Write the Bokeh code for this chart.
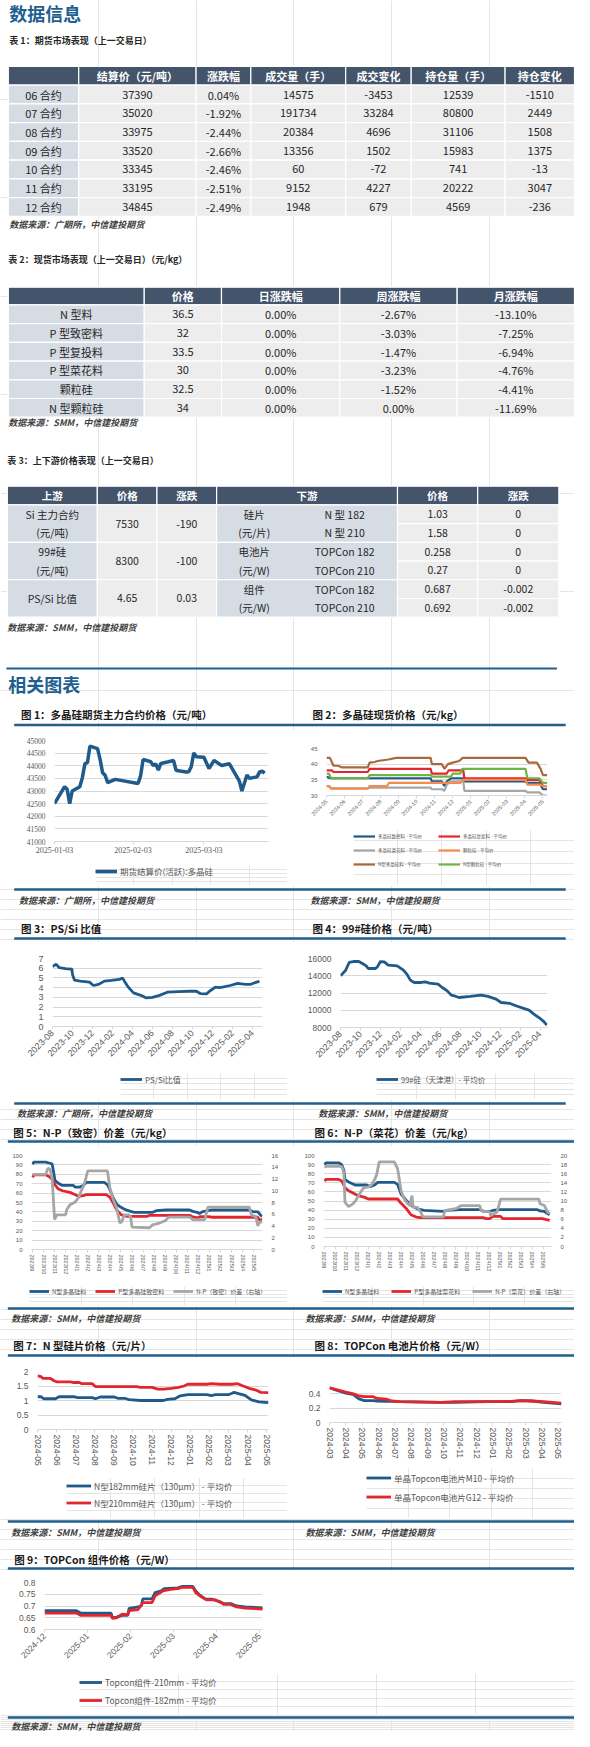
import math
import calendar
from datetime import date

from bokeh.plotting import figure
from bokeh.layouts import column, row
from bokeh.models import (Range1d, LinearAxis, FixedTicker, SingleIntervalTicker,
                          NumeralTickFormatter, Legend, LegendItem)
from bokeh.core.properties import value
from bokeh.embed import file_html
from bokeh.resources import INLINE

# ---------------- data: tables ----------------
T1_HEAD = ["", "结算价（元/吨）", "涨跌幅", "成交量（手）", "成交变化", "持仓量（手）", "持仓变化"]
T1_CONTRACT = ["06 合约", "07 合约", "08 合约", "09 合约", "10 合约", "11 合约", "12 合约"]
T1_SETTLE = [37390, 35020, 33975, 33520, 33345, 33195, 34845]
T1_PCT = ["0.04%", "-1.92%", "-2.44%", "-2.66%", "-2.46%", "-2.51%", "-2.49%"]
T1_VOL = [14575, 191734, 20384, 13356, 60, 9152, 1948]
T1_VOL_CHG = [-3453, 33284, 4696, 1502, -72, 4227, 679]
T1_OI = [12539, 80800, 31106, 15983, 741, 20222, 4569]
T1_OI_CHG = [-1510, 2449, 1508, 1375, -13, 3047, -236]

T2_HEAD = ["", "价格", "日涨跌幅", "周涨跌幅", "月涨跌幅"]
T2_ITEM = ["N 型料", "P 型致密料", "P 型复投料", "P 型菜花料", "颗粒硅", "N 型颗粒硅"]
T2_PRICE = ["36.5", "32", "33.5", "30", "32.5", "34"]
T2_DAY = ["0.00%", "0.00%", "0.00%", "0.00%", "0.00%", "0.00%"]
T2_WEEK = ["-2.67%", "-3.03%", "-1.47%", "-3.23%", "-1.52%", "0.00%"]
T2_MONTH = ["-13.10%", "-7.25%", "-6.94%", "-4.76%", "-4.41%", "-11.69%"]

T3_HEAD = ["上游", "价格", "涨跌", "下游", "价格", "涨跌"]
T3_UP_NAME = ["Si 主力合约", "99#硅", "PS/Si 比值"]
T3_UP_UNIT = ["(元/吨)", "(元/吨)", ""]
T3_UP_PRICE = ["7530", "8300", "4.65"]
T3_UP_CHG = ["-190", "-100", "0.03"]
T3_DOWN_CAT = ["硅片", "电池片", "组件"]
T3_DOWN_UNIT = ["(元/片)", "(元/W)", "(元/W)"]
T3_DOWN_SPEC = ["N 型 182", "N 型 210", "TOPCon 182", "TOPCon 210", "TOPCon 182", "TOPCon 210"]
T3_DOWN_PRICE = ["1.03", "1.58", "0.258", "0.27", "0.687", "0.692"]
T3_DOWN_CHG = ["0", "0", "0", "0", "-0.002", "-0.002"]

# ---------------- data: chart 1 ----------------
C1_XTICK = ["2025-01-03", "2025-02-03", "2025-03-03"]
C1_DATE = ["2025-01-03", "2025-01-07", "2025-01-08", "2025-01-09", "2025-01-10", "2025-01-13",
           "2025-01-14", "2025-01-15", "2025-01-16", "2025-01-17", "2025-01-20", "2025-01-21",
           "2025-01-22", "2025-01-23", "2025-01-24", "2025-01-27", "2025-02-05", "2025-02-06",
           "2025-02-07", "2025-02-10", "2025-02-11", "2025-02-12", "2025-02-13", "2025-02-14",
           "2025-02-17", "2025-02-19", "2025-02-20", "2025-02-21", "2025-02-24", "2025-02-25",
           "2025-02-26", "2025-02-27", "2025-02-28", "2025-03-03", "2025-03-05", "2025-03-07",
           "2025-03-10", "2025-03-13", "2025-03-17", "2025-03-18", "2025-03-20", "2025-03-21",
           "2025-03-24", "2025-03-25", "2025-03-26", "2025-03-27"]
C1_VALUE = [42500, 43170, 43070, 42500, 43000, 43170, 43530, 44080, 44120, 44780, 44680, 44250,
            43720, 43620, 43330, 43460, 43300, 43600, 44250, 44160, 44010, 44070, 43830, 44090,
            44160, 44210, 43820, 43800, 43750, 43760, 43960, 44510, 44360, 44340, 43890, 44210,
            44010, 44080, 43390, 43000, 43630, 43500, 43560, 43760, 43790, 43710]

# ---------------- data: chart 2 ----------------
C2_XLABEL = ["2024-05", "2024-06", "2024-07", "2024-08", "2024-09", "2024-10", "2024-11",
             "2024-12", "2025-01", "2025-02", "2025-03", "2025-04", "2025-05"]
C2_DENSE_D = ["2024-05-01", "2024-05-05", "2024-05-09", "2024-10-25", "2024-10-27", "2024-11-13",
              "2024-11-17", "2024-11-21", "2024-11-28", "2024-12-19", "2024-12-21", "2025-04-02",
              "2025-04-05", "2025-04-25", "2025-05-01", "2025-05-08"]
C2_DENSE_V = [36, 35.7, 35.5, 35.5, 34.5, 34.5, 33, 34.5, 35.5, 35.5, 34.5, 34.5, 34, 34, 32, 32]
C2_RECHG_D = ["2024-05-01", "2024-05-10", "2024-05-13", "2024-07-10", "2024-07-13", "2024-10-25",
              "2024-10-27", "2024-11-21", "2024-11-24", "2024-12-19", "2024-12-21", "2025-04-02",
              "2025-04-05", "2025-04-25", "2025-05-01", "2025-05-08"]
C2_RECHG_V = [38, 38, 37.5, 37.5, 38.5, 38.5, 37, 37, 38, 38, 35.5, 35.5, 35, 35, 33, 33]
C2_CAULI_D = ["2024-05-01", "2024-05-05", "2024-05-09", "2024-07-10", "2024-07-13", "2024-10-25",
              "2024-10-27", "2024-11-13", "2024-11-17", "2024-11-21", "2024-11-28", "2024-12-19",
              "2024-12-21", "2025-04-02", "2025-04-05", "2025-04-25", "2025-05-01", "2025-05-08"]
C2_CAULI_V = [33, 33, 32.3, 32.3, 32.5, 32.5, 32, 32, 31.5, 33.5, 34.5, 34.5, 31.5, 31.5, 31, 31, 30, 30]
C2_GRAN_D = ["2024-05-01", "2024-05-05", "2024-05-09", "2024-07-10", "2024-07-13", "2024-08-12",
             "2024-08-15", "2024-12-14", "2024-12-17", "2025-04-02", "2025-04-05", "2025-04-25",
             "2025-05-01", "2025-05-08"]
C2_GRAN_V = [33, 33, 32.2, 32.2, 33, 33, 34, 34, 35, 35, 33.5, 33.5, 33, 33]
C2_NTYPE_D = ["2024-05-01", "2024-05-07", "2024-05-13", "2024-05-21", "2024-05-27", "2024-07-10",
              "2024-07-13", "2024-07-22", "2024-07-27", "2024-08-14", "2024-08-28", "2024-10-25",
              "2024-10-27", "2024-11-13", "2024-11-17", "2024-11-23", "2024-12-01", "2024-12-12",
              "2024-12-18", "2025-04-02", "2025-04-07", "2025-04-21", "2025-04-27", "2025-05-01",
              "2025-05-08"]
C2_NTYPE_V = [42, 42, 39.5, 39.5, 39, 39, 40.5, 40.7, 41, 41.5, 42, 42, 40, 40, 38.5, 40, 40.5,
              41, 42, 42, 40.5, 40.5, 38.5, 36.5, 36.5]
C2_NGRAN_D = ["2024-05-01", "2024-05-05", "2024-05-09", "2024-07-10", "2024-07-13", "2024-10-25",
              "2024-10-27", "2024-11-28", "2024-12-01", "2024-12-14", "2024-12-17", "2025-04-02",
              "2025-04-05", "2025-04-25", "2025-05-01", "2025-05-08"]
C2_NGRAN_V = [37, 37, 35.5, 35.5, 36.5, 36.5, 36, 36, 37, 37, 38.5, 38.5, 35.5, 35.5, 34, 34]

# ---------------- data: chart 3 / 4 ----------------
C34_XLABEL = ["2023-08", "2023-10", "2023-12", "2024-02", "2024-04", "2024-06", "2024-08",
              "2024-10", "2024-12", "2025-02", "2025-04"]
C3_DATE = ["2023-08-01", "2023-08-07", "2023-08-13", "2023-08-22", "2023-09-10", "2023-09-25",
           "2023-09-29", "2023-10-01", "2023-10-07", "2023-10-25", "2023-11-22", "2023-12-04",
           "2023-12-19", "2024-01-07", "2024-01-28", "2024-02-21", "2024-03-01", "2024-03-07",
           "2024-03-19", "2024-04-04", "2024-04-28", "2024-05-13", "2024-06-01", "2024-06-22",
           "2024-07-16", "2024-08-19", "2024-09-22", "2024-10-13", "2024-10-25", "2024-11-13",
           "2024-11-22", "2024-12-10", "2024-12-22", "2025-01-01", "2025-01-25", "2025-02-15",
           "2025-03-10", "2025-03-25", "2025-04-13", "2025-04-22"]
C3_VALUE = [6.16, 6.3, 6.4, 6.05, 5.95, 5.9, 5.95, 5.36, 4.78, 4.67, 4.57, 4.22, 4.33, 4.67,
            4.74, 4.84, 5.0, 4.67, 4.05, 3.46, 3.18, 2.94, 3.0, 3.2, 3.53, 3.6, 3.63, 3.63, 3.39,
            3.36, 3.63, 4.05, 4.0, 4.05, 4.22, 4.43, 4.33, 4.33, 4.57, 4.65]
C4_DATE = ["2023-08-01", "2023-08-16", "2023-08-28", "2023-09-10", "2023-09-26", "2023-10-07",
           "2023-10-19", "2023-10-25", "2023-11-16", "2023-11-22", "2023-12-01", "2023-12-13",
           "2023-12-25", "2024-01-22", "2024-02-09", "2024-02-20", "2024-03-01", "2024-03-13",
           "2024-04-04", "2024-04-16", "2024-04-28", "2024-05-25", "2024-06-07", "2024-06-22",
           "2024-07-04", "2024-07-19", "2024-07-28", "2024-09-01", "2024-10-04", "2024-10-25",
           "2024-11-19", "2024-12-04", "2025-01-01", "2025-01-19", "2025-02-09", "2025-02-26",
           "2025-03-13", "2025-04-01", "2025-04-10", "2025-04-19", "2025-04-22"]
C4_VALUE = [14000, 14570, 15540, 15650, 15650, 15420, 15150, 14840, 14840, 15030, 15650, 15600,
            15230, 15150, 14690, 14190, 13490, 13220, 13220, 13300, 13140, 13030, 12640, 12250,
            11750, 11600, 11480, 11600, 11750, 11600, 11290, 10900, 10790, 10520, 10250, 10020,
            9550, 9050, 8780, 8390, 8300]

# ---------------- data: chart 5 / 6 ----------------
C56_XLABEL = ["2023/9", "2023/10", "2023/11", "2023/12", "2024/1", "2024/2", "2024/3", "2024/4",
              "2024/5", "2024/6", "2024/7", "2024/8", "2024/9", "2024/10", "2024/11", "2024/12",
              "2025/1", "2025/2", "2025/3", "2025/4", "2025/5"]
C5_N_D = ["2023-09-01", "2023-09-05", "2023-10-07", "2023-10-16", "2023-10-25", "2023-10-28",
          "2023-11-02", "2023-11-10", "2023-11-22", "2023-12-22", "2023-12-28", "2024-01-10",
          "2024-01-19", "2024-01-28", "2024-03-16", "2024-03-25", "2024-04-01", "2024-04-10",
          "2024-04-19", "2024-05-01", "2024-05-13", "2024-05-28", "2024-06-07", "2024-07-28",
          "2024-08-07", "2024-09-04", "2024-11-07", "2024-11-16", "2024-11-28", "2024-12-04",
          "2024-12-13", "2024-12-28", "2025-01-07", "2025-04-19", "2025-04-28", "2025-05-13",
          "2025-05-19", "2025-05-25"]
C5_N_V = [90.8, 93, 93, 92, 91, 85, 73.5, 70.7, 68.2, 68.2, 66.4, 66.4, 68.2, 71.4, 71.4, 68.9,
          63.6, 54.8, 48.4, 44.9, 42.4, 40.6, 39.6, 39.6, 41.3, 42, 42, 40.6, 39.6, 38.2, 40.3,
          41.3, 42, 42, 40.3, 40, 37.1, 35.3]
C5_P_D = ["2023-09-01", "2023-09-05", "2023-10-07", "2023-10-16", "2023-10-25", "2023-11-02",
          "2023-11-10", "2023-11-22", "2023-12-13", "2023-12-28", "2024-01-07", "2024-01-19",
          "2024-01-28", "2024-03-22", "2024-04-01", "2024-04-10", "2024-04-19", "2024-05-01",
          "2024-05-19", "2024-07-13", "2024-07-19", "2024-11-07", "2024-11-16", "2024-11-28",
          "2024-12-07", "2024-12-28", "2025-01-10", "2025-05-13", "2025-05-16", "2025-05-25"]
C5_P_V = [76.7, 79.5, 79.5, 77.7, 74.9, 68.9, 64.7, 62.5, 60.8, 58.3, 56.5, 57.2, 58.3, 58.3,
          55.5, 49.5, 42.4, 37.1, 35.3, 35.3, 36.4, 36.4, 34.6, 33.6, 35, 35, 34.3, 34.3, 31.8, 31.8]
C5_SPREAD_D = ["2023-09-01", "2023-10-07", "2023-10-13", "2023-10-19", "2023-10-25", "2023-11-01",
               "2023-11-07", "2023-12-01", "2023-12-04", "2023-12-13", "2023-12-28", "2024-01-07",
               "2024-01-13", "2024-01-22", "2024-02-01", "2024-03-25", "2024-04-01", "2024-04-10",
               "2024-04-19", "2024-04-28", "2024-05-04", "2024-05-10", "2024-05-22", "2024-05-28",
               "2024-06-01", "2024-07-19", "2024-07-28", "2024-08-16", "2024-09-01", "2024-09-10",
               "2024-11-07", "2024-11-16", "2024-12-19", "2024-12-28", "2025-04-19", "2025-04-25",
               "2025-05-07", "2025-05-13", "2025-05-16", "2025-05-25"]
C5_SPREAD_V = [12.8, 12.8, 13.8, 13.7, 12.1, 5.1, 5.9, 5.9, 6.8, 7.6, 8.1, 8.9, 9.9, 11.1, 13.4,
               13.4, 10.5, 8.5, 7.1, 4.5, 4.8, 5.9, 5.9, 5.6, 3.8, 3.7, 4.2, 4.5, 4.9, 5.5, 5.5,
               5.1, 5.1, 7.2, 7.2, 5.9, 5.6, 4.0, 4.5, 4.8]
C6_N_D = ["2023-09-01", "2023-09-05", "2023-10-10", "2023-10-19", "2023-10-25", "2023-10-28",
          "2023-11-07", "2023-11-25", "2023-12-28", "2024-01-04", "2024-01-10", "2024-01-19",
          "2024-01-28", "2024-03-13", "2024-03-22", "2024-04-01", "2024-04-16", "2024-04-25",
          "2024-05-04", "2024-05-16", "2024-06-04", "2024-07-28", "2024-08-07", "2024-09-13",
          "2024-11-07", "2024-11-16", "2024-12-04", "2024-12-13", "2025-01-01", "2025-04-13",
          "2025-04-22", "2025-05-04", "2025-05-19"]
C6_N_V = [89.9, 92, 92, 90, 83.5, 73.7, 70.9, 67.6, 67.6, 66.2, 66.2, 67.6, 70.5, 70.5, 68.3,
          57.6, 50.4, 46.8, 43.9, 41.4, 39.6, 38.5, 39.6, 40.6, 40.6, 38.8, 38.5, 39.6, 40.6,
          40.6, 39.2, 38.5, 34.9]
C6_P_D = ["2023-09-01", "2023-09-05", "2023-10-10", "2023-10-19", "2023-10-28", "2023-11-07",
          "2023-12-04", "2023-12-22", "2024-01-01", "2024-03-22", "2024-04-01", "2024-04-16",
          "2024-04-28", "2024-05-13", "2024-05-25", "2024-11-16", "2024-11-25", "2024-12-04",
          "2024-12-13", "2025-01-04", "2025-01-10", "2025-04-28", "2025-05-19"]
C6_P_V = [72, 73.7, 73.7, 72, 64.7, 61.2, 55.8, 54, 52.2, 52.2, 47.5, 41.4, 34.9, 32.4, 31.7,
          31.7, 30.6, 30.6, 33.1, 33.1, 30.6, 30.6, 28.8]
C6_SPREAD_D = ["2023-09-01", "2023-09-05", "2023-10-19", "2023-10-25", "2023-10-28", "2023-11-07",
               "2023-11-16", "2023-11-25", "2023-12-10", "2023-12-19", "2024-01-01", "2024-01-10",
               "2024-01-19", "2024-01-25", "2024-02-01", "2024-03-13", "2024-03-22", "2024-03-25",
               "2024-04-01", "2024-04-10", "2024-04-19", "2024-04-25", "2024-05-01", "2024-05-04",
               "2024-05-16", "2024-05-25", "2024-06-01", "2024-07-28", "2024-08-01", "2024-09-04",
               "2024-09-16", "2024-11-07", "2024-11-10", "2024-12-04", "2024-12-07", "2024-12-25",
               "2025-01-04", "2025-04-19", "2025-04-22", "2025-05-04", "2025-05-13", "2025-05-19"]
C6_SPREAD_V = [17.4, 17.6, 17.6, 16.2, 9.7, 8.8, 9.2, 9.9, 11.9, 12.9, 13.1, 13.5, 14.7, 15.8,
               18.6, 18.6, 17.1, 15.8, 12.2, 10.4, 9.4, 9.0, 11.2, 8.6, 8.6, 7.6, 6.5, 6.5, 7.9,
               8.4, 9.0, 9.0, 7.9, 7.6, 6.8, 7.6, 10.4, 10.4, 9.4, 9.0, 7.6, 7.2]

# ---------------- data: chart 7 / 8 / 9 ----------------
C7_XLABEL = ["2024-05", "2024-06", "2024-07", "2024-08", "2024-09", "2024-10", "2024-11",
             "2024-12", "2025-01", "2025-02", "2025-03", "2025-04", "2025-05"]
C7_182_D = ["2024-05-01", "2024-05-07", "2024-05-11", "2024-05-30", "2024-06-05", "2024-06-28",
            "2024-07-04", "2024-07-28", "2024-08-02", "2024-08-10", "2024-09-02", "2024-09-08",
            "2024-09-19", "2024-09-25", "2024-10-13", "2024-11-19", "2024-11-25", "2024-12-07",
            "2024-12-16", "2024-12-28", "2025-01-28", "2025-02-04", "2025-02-10", "2025-03-01",
            "2025-03-07", "2025-03-10", "2025-03-19", "2025-03-28", "2025-04-07", "2025-04-13",
            "2025-04-19", "2025-05-04"]
C7_182_V = [1.13, 1.13, 1.06, 1.06, 1.13, 1.13, 1.1, 1.1, 1.06, 1.12, 1.12, 1.07, 1.07, 1.03,
            1.0, 1.0, 1.04, 1.06, 1.16, 1.2, 1.2, 1.17, 1.2, 1.2, 1.25, 1.28, 1.23, 1.18, 1.02,
            0.99, 0.95, 0.93]
C7_210_D = ["2024-05-01", "2024-05-07", "2024-05-10", "2024-05-22", "2024-05-28", "2024-06-02",
            "2024-06-23", "2024-06-28", "2024-07-07", "2024-07-11", "2024-07-28", "2024-08-02",
            "2024-10-07", "2024-10-13", "2024-11-01", "2024-11-10", "2024-11-19", "2024-12-01",
            "2024-12-13", "2024-12-22", "2024-12-28", "2025-01-28", "2025-02-04", "2025-02-16",
            "2025-03-07", "2025-03-16", "2025-03-25", "2025-04-04", "2025-04-13", "2025-04-22",
            "2025-05-04"]
C7_210_V = [1.85, 1.82, 1.76, 1.76, 1.68, 1.64, 1.64, 1.62, 1.62, 1.58, 1.58, 1.48, 1.48, 1.45,
            1.45, 1.39, 1.39, 1.42, 1.45, 1.5, 1.56, 1.56, 1.58, 1.56, 1.56, 1.58, 1.5, 1.42,
            1.37, 1.28, 1.27]
C8_XLABEL = ["2024-03", "2024-04", "2024-05", "2024-06", "2024-07", "2024-08", "2024-09",
             "2024-10", "2024-11", "2024-12", "2025-01", "2025-02", "2025-03", "2025-04", "2025-05"]
C8_DATE = ["2024-03-01", "2024-03-14", "2024-04-01", "2024-04-15", "2024-04-25", "2024-05-05",
           "2024-05-22", "2024-05-29", "2024-06-16", "2024-06-26", "2024-07-10", "2024-09-25",
           "2024-10-22", "2024-12-22", "2025-02-04", "2025-02-21", "2025-03-13", "2025-04-04",
           "2025-05-07"]
C8_M10 = [0.485, 0.45, 0.41, 0.39, 0.33, 0.305, 0.305, 0.30, 0.295, 0.295, 0.29, 0.28, 0.28,
          0.29, 0.29, 0.305, 0.30, 0.28, 0.26]
C8_G12 = [0.485, 0.46, 0.425, 0.40, 0.37, 0.36, 0.36, 0.335, 0.325, 0.30, 0.29, 0.28, 0.29,
          0.29, 0.295, 0.305, 0.30, 0.29, 0.27]
C9_XLABEL = ["2024-12", "2025-01", "2025-02", "2025-03", "2025-04", "2025-05"]
C9_210_D = ["2024-12-01", "2024-12-24", "2024-12-27", "2025-01-18", "2025-01-19", "2025-01-22",
            "2025-01-26", "2025-01-30", "2025-01-31", "2025-02-05", "2025-02-08", "2025-02-09",
            "2025-02-15", "2025-02-17", "2025-02-21", "2025-02-23", "2025-03-04", "2025-03-07",
            "2025-03-15", "2025-03-17", "2025-03-20", "2025-03-24", "2025-03-29", "2025-04-02",
            "2025-04-06", "2025-04-11", "2025-04-15", "2025-04-21", "2025-05-04"]
C9_210_V = [0.68, 0.68, 0.67, 0.67, 0.65, 0.653, 0.66, 0.66, 0.69, 0.695, 0.70, 0.73, 0.73,
            0.757, 0.764, 0.774, 0.777, 0.783, 0.783, 0.764, 0.746, 0.729, 0.729, 0.72, 0.71,
            0.71, 0.70, 0.696, 0.692]
C9_182_D = ["2024-12-01", "2024-12-24", "2024-12-27", "2025-01-18", "2025-01-19", "2025-01-22",
            "2025-01-26", "2025-01-30", "2025-01-31", "2025-02-06", "2025-02-09", "2025-02-15",
            "2025-02-17", "2025-02-22", "2025-02-27", "2025-03-04", "2025-03-07", "2025-03-15",
            "2025-03-17", "2025-03-21", "2025-03-25", "2025-03-31", "2025-04-04", "2025-04-06",
            "2025-04-11", "2025-04-15", "2025-04-21", "2025-05-04"]
C9_182_V = [0.67, 0.67, 0.66, 0.66, 0.647, 0.65, 0.665, 0.663, 0.68, 0.685, 0.714, 0.714, 0.743,
            0.764, 0.771, 0.774, 0.779, 0.779, 0.757, 0.739, 0.726, 0.726, 0.717, 0.707, 0.707,
            0.696, 0.691, 0.687]

# ---------------- texts ----------------
TITLE_DATA = "数据信息"
TITLE_CHARTS = "相关图表"
CAP1 = "表 1：期货市场表现（上一交易日）"
CAP2 = "表 2：现货市场表现（上一交易日）（元/kg）"
CAP3 = "表 3：上下游价格表现（上一交易日）"
SRC_G = "数据来源：广期所，中信建投期货"
SRC_S = "数据来源：SMM，中信建投期货"
FIG_T = ["图 1：多晶硅期货主力合约价格（元/吨）", "图 2：多晶硅现货价格（元/kg）",
         "图 3：PS/Si 比值", "图 4：99#硅价格（元/吨）",
         "图 5：N-P（致密）价差（元/kg）", "图 6：N-P（菜花）价差（元/kg）",
         "图 7：N 型硅片价格（元/片）", "图 8：TOPCon 电池片价格（元/W）",
         "图 9：TOPCon 组件价格（元/W）"]

# ---------------- styling ----------------
CJK = "Noto Sans CJK SC"
SANS = "Liberation Sans"
SERIF = "Liberation Serif"
NAVY = "#1f5f8f"
HEAD_BG = "#44546a"
FIRST_BG = "#d6dce4"
CELL_BG = "#ededed"
TXT = "#262626"
SRC_TXT = "#404040"
GRID = "#d9d9d9"
TICK_TXT = "#595959"
C_BLUE = "#1f5a8a"
C_RED = "#e3262d"
C_GRAY = "#a6a6a6"
C_ORANGE = "#f68b50"
C_GREEN = "#6fb544"
C_BROWN = "#a8693d"

W = 574
XR = 587.0   # reference width units used on the text canvases


def month_pos(s, base):
    y, m, d = (int(t) for t in s.split("-"))
    by, bm = (int(t) for t in base.split("-")[:2])
    return (y - by) * 12 + (m - bm) + (d - 1) / calendar.monthrange(y, m)[1]


def label_pos(lbl, base):
    parts = lbl.replace("/", "-").split("-")
    return int(round(month_pos(f"{parts[0]}-{parts[1]}-01", base)))


def day_pos(s, base):
    return (date.fromisoformat(s) - date.fromisoformat(base)).days


def no_align(p):
    if "frame_align" in p.properties():
        p.frame_align = False


def canvas(h, y0, y1, w=W):
    p = figure(width=w, height=h, x_range=Range1d(0, XR * w / W), y_range=Range1d(y1, y0),
               output_backend="svg", toolbar_location=None, title=None, min_border=0,
               x_axis_location=None, y_axis_location=None)
    no_align(p)
    p.outline_line_color = None
    p.background_fill_color = "white"
    p.border_fill_color = "white"
    return p


def texts(p, xs, ys, ss, size, color=TXT, style="normal", align="left", font=CJK):
    p.text(x=xs, y=ys, text=ss, text_font=value(font), text_font_size=value(f"{size}px"),
           text_font_style=value(style), text_color=color, text_align=align,
           text_baseline="middle")


def hline(p, x0, x1, y, w=2.5, color=NAVY):
    p.segment(x0=[x0], y0=[y], x1=[x1], y1=[y], line_color=color, line_width=w)


def cells(p, lefts, rights, tops, bottoms, fills):
    p.quad(left=lefts, right=rights, top=tops, bottom=bottoms, fill_color=fills,
           line_color="white", line_width=1.2)


def simple_table(p, cols, top, hh, rh, head, body, size=11):
    n_c = len(cols) - 1
    cells(p, cols[:-1], cols[1:], [top] * n_c, [top + hh] * n_c, [HEAD_BG] * n_c)
    texts(p, [(cols[j] + cols[j + 1]) / 2 for j in range(1, n_c)], [top + hh / 2] * (n_c - 1),
          head[1:], size, "white", "bold", "center")
    for j, col in enumerate(body):
        n = len(col)
        tops = [top + hh + i * rh for i in range(n)]
        cells(p, [cols[j]] * n, [cols[j + 1]] * n, tops, [t + rh for t in tops],
              [FIRST_BG if j == 0 else CELL_BG] * n)
        texts(p, [(cols[j] + cols[j + 1]) / 2] * n, [t + rh / 2 for t in tops],
              [str(v) for v in col], size, TXT, "normal", "center")


# ================= header canvas =================
hdr = canvas(730, 0, 741)
texts(hdr, [9], [13], [TITLE_DATA], 18, NAVY, "bold")
texts(hdr, [9], [41], [CAP1], 9, TXT, "bold")
simple_table(hdr, [8, 80, 200, 256, 353, 420, 516, 587], 67, 19, 19, T1_HEAD,
             [T1_CONTRACT, T1_SETTLE, T1_PCT, T1_VOL, T1_VOL_CHG, T1_OI, T1_OI_CHG])
texts(hdr, [9], [227], [SRC_G], 9, SRC_TXT, "bold italic")
texts(hdr, [8], [263], [CAP2], 9, TXT, "bold")
simple_table(hdr, [8, 147, 226, 347, 467, 587], 291, 18, 19, T2_HEAD,
             [T2_ITEM, T2_PRICE, T2_DAY, T2_WEEK, T2_MONTH])
texts(hdr, [8], [428], [SRC_S], 9, SRC_TXT, "bold italic")
texts(hdr, [7], [467], [CAP3], 9, TXT, "bold")

# table 3
c3 = [7, 99, 160, 221, 298, 406, 488, 571]
t3_top, t3_hh, t3_rh = 493, 19, 19
h_l = [c3[0], c3[1], c3[2], c3[3], c3[5], c3[6]]
h_r = [c3[1], c3[2], c3[3], c3[5], c3[6], c3[7]]
cells(hdr, h_l, h_r, [t3_top] * 6, [t3_top + t3_hh] * 6, [HEAD_BG] * 6)
texts(hdr, [(a + b) / 2 for a, b in zip(h_l, h_r)], [t3_top + t3_hh / 2] * 6, T3_HEAD, 10.5,
      "white", "bold", "center")
b0 = t3_top + t3_hh
g_tops = [b0 + 2 * i * t3_rh for i in range(3)]
g_bots = [t + 2 * t3_rh for t in g_tops]
cells(hdr, [c3[0]] * 3, [c3[1]] * 3, g_tops, g_bots, [FIRST_BG] * 3)
cells(hdr, [c3[1]] * 3, [c3[2]] * 3, g_tops, g_bots, [CELL_BG] * 3)
cells(hdr, [c3[2]] * 3, [c3[3]] * 3, g_tops, g_bots, [CELL_BG] * 3)
cells(hdr, [c3[3]] * 3, [c3[5]] * 3, g_tops, g_bots, [FIRST_BG] * 3)
r_tops = [b0 + i * t3_rh for i in range(6)]
r_bots = [t + t3_rh for t in r_tops]
cells(hdr, [c3[5]] * 6, [c3[6]] * 6, r_tops, r_bots, [CELL_BG] * 6)
cells(hdr, [c3[6]] * 6, [c3[7]] * 6, r_tops, r_bots, [CELL_BG] * 6)
up_y1 = [t + t3_rh / 2 if u else t + t3_rh for t, u in zip(g_tops, T3_UP_UNIT)]
texts(hdr, [(c3[0] + c3[1]) / 2] * 3, up_y1, T3_UP_NAME, 10.5, TXT, "normal", "center")
texts(hdr, [(c3[0] + c3[1]) / 2] * 3, [t + 1.5 * t3_rh for t in g_tops], T3_UP_UNIT, 10.5, TXT,
      "normal", "center")
texts(hdr, [(c3[1] + c3[2]) / 2] * 3, [t + t3_rh for t in g_tops], T3_UP_PRICE, 10.5, TXT,
      "normal", "center")
texts(hdr, [(c3[2] + c3[3]) / 2] * 3, [t + t3_rh for t in g_tops], T3_UP_CHG, 10.5, TXT,
      "normal", "center")
texts(hdr, [(c3[3] + c3[4]) / 2] * 3, [t + t3_rh / 2 for t in g_tops], T3_DOWN_CAT, 10.5, TXT,
      "normal", "center")
texts(hdr, [(c3[3] + c3[4]) / 2] * 3, [t + 1.5 * t3_rh for t in g_tops], T3_DOWN_UNIT, 10.5, TXT,
      "normal", "center")
texts(hdr, [(c3[4] + c3[5]) / 2] * 6, [t + t3_rh / 2 for t in r_tops], T3_DOWN_SPEC, 10.5, TXT,
      "normal", "center")
texts(hdr, [(c3[5] + c3[6]) / 2] * 6, [t + t3_rh / 2 for t in r_tops], T3_DOWN_PRICE, 10.5, TXT,
      "normal", "center")
texts(hdr, [(c3[6] + c3[7]) / 2] * 6, [t + t3_rh / 2 for t in r_tops], T3_DOWN_CHG, 10.5, TXT,
      "normal", "center")
texts(hdr, [7], [636], [SRC_S], 9, SRC_TXT, "bold italic")

hline(hdr, 6, 569, 678, 2)
texts(hdr, [8], [694], [TITLE_CHARTS], 18, NAVY, "bold")
texts(hdr, [21, 319], [725, 725], FIG_T[0:2], 10.5, "#1a1a1a", "bold")
hline(hdr, 14, 578, 735.5)


# ================= charts =================
def make_chart(w, h, fl, fr, ft, fb, xr, yr, yint):
    p = figure(width=w, height=h, x_range=Range1d(*xr), y_range=Range1d(*yr),
               output_backend="svg", toolbar_location=None, title=None,
               min_border_left=fl, min_border_right=w - fr, min_border_top=ft,
               min_border_bottom=h - fb)
    no_align(p)
    p.outline_line_color = None
    p.background_fill_color = "white"
    p.border_fill_color = "white"
    p.xgrid.visible = False
    tk = SingleIntervalTicker(interval=yint, num_minor_ticks=0)
    p.yaxis.ticker = tk
    p.ygrid.ticker = tk
    p.ygrid.grid_line_color = GRID
    p.ygrid.grid_line_width = 1
    p.yaxis.axis_line_color = None
    p.yaxis.major_tick_line_color = None
    p.yaxis.minor_tick_line_color = None
    p.yaxis.major_label_standoff = 3
    p.xaxis.axis_line_color = GRID
    p.xaxis.major_tick_line_color = GRID
    p.xaxis.minor_tick_line_color = None
    p.xaxis.major_tick_in = 0
    p.xaxis.major_tick_out = 3
    p.xaxis.major_label_standoff = 2
    return p


def style_axis(ax, size, font=SANS):
    ax.major_label_text_font = font
    ax.major_label_text_font_size = f"{size}px"
    ax.major_label_text_color = TICK_TXT


def set_x(p, ticks, labels, size, font=SANS, orient="horizontal"):
    ax = p.xaxis[0]
    ax.ticker = FixedTicker(ticks=ticks)
    ax.major_label_overrides = {t: l for t, l in zip(ticks, labels)}
    ax.major_label_orientation = orient
    style_axis(ax, size, font)


def legend_fig(w, h, lx, ly, entries, size, glyph_w=22, item_h=12, spacing=0, ncols=None,
               orientation="vertical", label_w=10):
    """Key strip under a chart. Each key swatch is a copy of the series' line, kept out of
    the strip's (off-screen) ranges so that only the key is shown."""
    f = figure(width=w, height=h, x_range=Range1d(-3, -2), y_range=Range1d(-3, -2),
               output_backend="svg", toolbar_location=None, title=None,
               min_border_left=lx, min_border_top=ly, min_border_right=0, min_border_bottom=0,
               x_axis_location=None, y_axis_location=None)
    no_align(f)
    f.outline_line_color = None
    f.background_fill_color = "white"
    f.border_fill_color = "white"
    items = []
    for lab, color, lw, xs, ys in entries:
        rr = f.line(x=xs, y=ys, line_color=color, line_width=lw)
        items.append(LegendItem(label=lab, renderers=[rr]))
    lg = Legend(items=items, location="top_left", orientation=orientation, glyph_width=glyph_w,
                glyph_height=item_h, label_height=item_h, label_width=label_w, label_standoff=3,
                spacing=spacing, padding=0, margin=0, border_line_color=None,
                background_fill_alpha=0, label_text_font=CJK,
                label_text_font_size=f"{size}px", label_text_color=TICK_TXT)
    if ncols:
        lg.ncols = ncols
    f.add_layout(lg)
    return f


# ---- chart 1
b1 = C1_XTICK[0]
x1 = [day_pos(d, b1) for d in C1_DATE]
p1 = make_chart(287, 132, 54, 268, 10, 111, (0, 84.5), (41000, 45000), 500)
p1.line(x1, C1_VALUE, line_color=C_BLUE, line_width=3.5)
set_x(p1, [day_pos(d, b1) for d in C1_XTICK], C1_XTICK, 8, SERIF)
style_axis(p1.yaxis[0], 7.5, SERIF)
l1 = legend_fig(287, 23, 95, 3, [("期货结算价(活跃):多晶硅", C_BLUE, 3.5, x1, C1_VALUE)], 8.5)

# ---- chart 2
b2 = C2_XLABEL[0]
p2 = make_chart(287, 97, 39, 260, 18, 65, (0, 12.25), (30, 45), 5)
C2_SERIES = [(C2_DENSE_D, C2_DENSE_V, C_BLUE, "多晶硅致密料 - 平均价"),
             (C2_RECHG_D, C2_RECHG_V, C_RED, "多晶硅复投料 - 平均价"),
             (C2_CAULI_D, C2_CAULI_V, C_GRAY, "多晶硅菜花料 - 平均价"),
             (C2_GRAN_D, C2_GRAN_V, C_ORANGE, "颗粒硅 - 平均价"),
             (C2_NTYPE_D, C2_NTYPE_V, C_BROWN, "N型多晶硅料 - 平均价"),
             (C2_NGRAN_D, C2_NGRAN_V, C_GREEN, "N型颗粒硅 - 平均价")]
c2_entries = []
for d, v, c, lab in C2_SERIES:
    xs = [month_pos(x, b2) for x in d]
    p2.line(xs, v, line_color=c, line_width=2.2)
    c2_entries.append((lab, c, 2.2, xs, v))
set_x(p2, [label_pos(l, b2) for l in C2_XLABEL], C2_XLABEL, 5.5, SANS, math.pi / 4)
style_axis(p2.yaxis[0], 6)
l2 = legend_fig(287, 58, 66, 2, c2_entries, 4.5, glyph_w=22, item_h=14, spacing=0, ncols=2,
                orientation="horizontal", label_w=60)

# ---- chart 3
b3 = C34_XLABEL[0]
x3 = [month_pos(x, b3) for x in C3_DATE]
p3 = make_chart(287, 128, 52, 262, 16, 84, (0, 21), (0, 7), 1)
p3.line(x3, C3_VALUE, line_color=C_BLUE, line_width=2.8)
set_x(p3, [label_pos(l, b3) for l in C34_XLABEL], C34_XLABEL, 9, SANS, math.pi / 4)
style_axis(p3.yaxis[0], 9)
l3 = legend_fig(287, 29, 120, 3, [("PS/Si比值", C_BLUE, 2.8, x3, C3_VALUE)], 8)

# ---- chart 4
x4 = [month_pos(x, b3) for x in C4_DATE]
p4 = make_chart(287, 128, 53, 260, 16, 85, (0, 20.75), (8000, 16000), 2000)
p4.line(x4, C4_VALUE, line_color=C_BLUE, line_width=2.8)
set_x(p4, [label_pos(l, b3) for l in C34_XLABEL], C34_XLABEL, 9, SANS, math.pi / 4)
style_axis(p4.yaxis[0], 8.5)
l4 = legend_fig(287, 29, 89, 3, [("99#硅（天津港）- 平均价", C_BLUE, 2.8, x4, C4_VALUE)], 7.5)


# ---- chart 5 / 6
def spread_chart(fl, fr, fb, xr, rmax, n_d, n_v, p_d, p_v, s_d, s_v, p_lab, s_lab, lx, sp):
    b = "2023-09"
    p = make_chart(287, 137, fl, fr, 9, fb, xr, (0, 100), 10)
    p.extra_y_ranges = {"r": Range1d(0, rmax)}
    rax = LinearAxis(y_range_name="r", ticker=SingleIntervalTicker(interval=2, num_minor_ticks=0))
    rax.axis_line_color = None
    rax.major_tick_line_color = None
    rax.minor_tick_line_color = None
    rax.major_label_standoff = 3
    style_axis(rax, 6)
    p.add_layout(rax, "right")
    xn = [month_pos(x, b) for x in n_d]
    xp = [month_pos(x, b) for x in p_d]
    xs = [month_pos(x, b) for x in s_d]
    p.line(xn, n_v, line_color=C_BLUE, line_width=2.8)
    p.line(xp, p_v, line_color=C_RED, line_width=2.8)
    p.line(xs, s_v, line_color=C_GRAY, line_width=2.8, y_range_name="r")
    set_x(p, [label_pos(l, b) for l in C56_XLABEL], C56_XLABEL, 5.5, SANS, "vertical")
    style_axis(p.yaxis[0], 6)
    lf = legend_fig(287, 22, lx, 3, [("N型多晶硅料", C_BLUE, 2.8, xn, n_v),
                                     (p_lab, C_RED, 2.8, xp, p_v),
                                     (s_lab, C_GRAY, 2.8, xs, s_v)], 6,
                    glyph_w=20, item_h=10, spacing=sp, orientation="horizontal")
    return p, lf


p5, l5 = spread_chart(31, 262, 103, (-0.09, 20.8), 16, C5_N_D, C5_N_V, C5_P_D, C5_P_V,
                      C5_SPREAD_D, C5_SPREAD_V, "P型多晶硅致密料", "N-P（致密）价差（右轴）", 29, 9)
p6, l6 = spread_chart(36, 264, 100, (-0.09, 20.75), 20, C6_N_D, C6_N_V, C6_P_D, C6_P_V,
                      C6_SPREAD_D, C6_SPREAD_V, "P型多晶硅菜花料", "N-P（菜花）价差（右轴）", 35, 12)

# ---- chart 7
b7 = C7_XLABEL[0]
x7a = [month_pos(x, b7) for x in C7_182_D]
x7b = [month_pos(x, b7) for x in C7_210_D]
p7 = make_chart(287, 116, 37, 268, 13, 71, (0, 12.1), (0, 2), 0.5)
p7.line(x7a, C7_182_V, line_color=C_BLUE, line_width=2.8)
p7.line(x7b, C7_210_V, line_color=C_RED, line_width=2.8)
set_x(p7, [label_pos(l, b7) for l in C7_XLABEL], C7_XLABEL, 8.5, SANS, "vertical")
p7.yaxis.formatter = NumeralTickFormatter(format="0.[0]")
style_axis(p7.yaxis[0], 8.5)
l7 = legend_fig(287, 44, 66, 3, [("N型182mm硅片（130μm） - 平均价", C_BLUE, 2.8, x7a, C7_182_V),
                                 ("N型210mm硅片（130μm） - 平均价", C_RED, 2.8, x7b, C7_210_V)],
                8.5, glyph_w=25, item_h=17)

# ---- chart 8
b8 = C8_XLABEL[0]
x8 = [month_pos(x, b8) for x in C8_DATE]
p8 = make_chart(287, 108, 42, 274, 21, 64, (0, 14.2), (0, 0.6), 0.2)
p8.line(x8, C8_M10, line_color=C_BLUE, line_width=2.8)
p8.line(x8, C8_G12, line_color=C_RED, line_width=2.8)
set_x(p8, [label_pos(l, b8) for l in C8_XLABEL], C8_XLABEL, 8.5, SANS, "vertical")
p8.yaxis.formatter = NumeralTickFormatter(format="0.[0]")
style_axis(p8.yaxis[0], 8.5)
l8 = legend_fig(287, 52, 79, 2, [("单晶Topcon电池片M10 - 平均价", C_BLUE, 2.8, x8, C8_M10),
                                 ("单晶Topcon电池片G12 - 平均价", C_RED, 2.8, x8, C8_G12)],
                8.5, glyph_w=25, item_h=19)

# ---- chart 9
b9 = C9_XLABEL[0]
x9a = [month_pos(x, b9) for x in C9_210_D]
x9b = [month_pos(x, b9) for x in C9_182_D]
p9 = make_chart(574, 100, 44, 262, 11, 58, (0, 5.07), (0.6, 0.8), 0.05)
p9.line(x9a, C9_210_V, line_color=C_BLUE, line_width=2.8)
p9.line(x9b, C9_182_V, line_color=C_RED, line_width=2.8)
set_x(p9, [label_pos(l, b9) for l in C9_XLABEL], C9_XLABEL, 8.5, SANS, math.pi / 4)
p9.yaxis.formatter = NumeralTickFormatter(format="0.[00]")
style_axis(p9.yaxis[0], 8.5)
l9 = legend_fig(574, 43, 79, 2, [("Topcon组件-210mm - 平均价", C_BLUE, 2.8, x9a, C9_210_V),
                                 ("Topcon组件-182mm - 平均价", C_RED, 2.8, x9b, C9_182_V)],
                8.5, glyph_w=23, item_h=18)

# ================= strips =================
s1 = canvas(57, 896, 953)
hline(s1, 14, 578, 900)
texts(s1, [19, 317], [911, 911], [SRC_G, SRC_S], 9, SRC_TXT, "bold italic")
texts(s1, [21, 319], [939, 939], FIG_T[2:4], 10.5, "#1a1a1a", "bold")
hline(s1, 14, 578, 949)

s2 = canvas(47, 1110, 1157)
hline(s2, 14, 578, 1114)
texts(s2, [17, 325], [1124, 1124], [SRC_G, SRC_S], 9, SRC_TXT, "bold italic")
texts(s2, [13, 321], [1143, 1143], FIG_T[4:6], 10.5, "#1a1a1a", "bold")
hline(s2, 7.5, 587, 1152)

s3 = canvas(53, 1316, 1369)
hline(s3, 7.5, 587, 1319)
texts(s3, [11, 312], [1329, 1329], [SRC_S, SRC_S], 9, SRC_TXT, "bold italic")
texts(s3, [13, 321], [1356, 1356], FIG_T[6:8], 10.5, "#1a1a1a", "bold")
hline(s3, 7.5, 587, 1366)

s4 = canvas(53, 1529, 1582)
hline(s4, 7.5, 587, 1532)
texts(s4, [11, 312], [1543, 1543], [SRC_S, SRC_S], 9, SRC_TXT, "bold italic")
texts(s4, [14], [1570], FIG_T[8:9], 10.5, "#1a1a1a", "bold")
hline(s4, 7.5, 587, 1579)

s5 = canvas(17, 1725, 1742)
hline(s5, 7.5, 587, 1728)
texts(s5, [11], [1737], [SRC_S], 9, SRC_TXT, "bold italic")


def pair(a, la, b, lb):
    return row(column(a, la, spacing=0), column(b, lb, spacing=0), spacing=0)


layout = column(hdr, pair(p1, l1, p2, l2), s1, pair(p3, l3, p4, l4), s2, pair(p5, l5, p6, l6),
                s3, pair(p7, l7, p8, l8), s4, p9, l9, s5, spacing=0)

open("out.html", "w").write(file_html(layout, INLINE))
